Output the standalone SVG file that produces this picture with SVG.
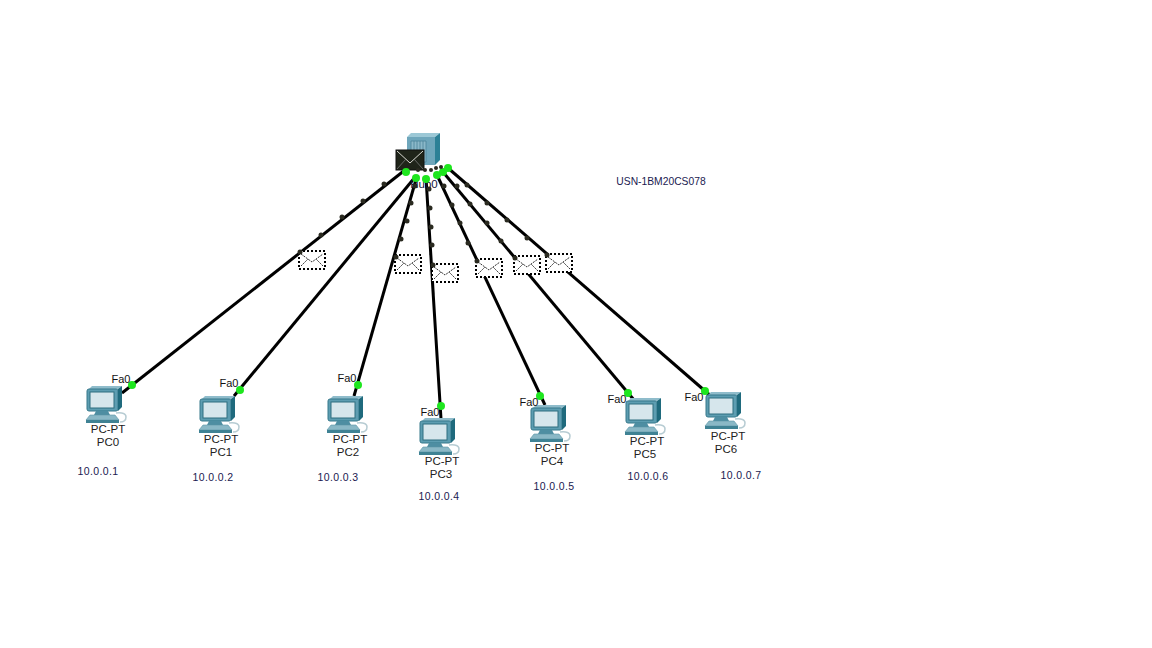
<svg xmlns="http://www.w3.org/2000/svg" xmlns:xlink="http://www.w3.org/1999/xlink" width="1152" height="648" viewBox="0 0 1152 648">
<style>
text{font-family:"Liberation Sans",Arial,sans-serif;font-size:11.5px;fill:#222;text-anchor:middle}
.ip{fill:#1a1a50;font-size:10.5px;letter-spacing:.4px}
.usn{fill:#1a1a50;font-size:10.3px}
.l{fill:#111;font-size:11px}
.w{stroke:#000;stroke-width:3;fill:none}
.g{fill:#1ee61e}
.d{fill:#2a2a20}
.env{fill:#fff;stroke:#000;stroke-width:2;stroke-dasharray:2 2}
.fold{fill:none;stroke:#333;stroke-width:1;stroke-dasharray:2 1}
</style>
<defs>
<g id="pc">
<path d="M-14,-25 L-11,-28 H19 L15,-25 Z" fill="#8fbccb"/>
<rect x="-16" y="-25" width="31" height="22" rx="2" fill="#5d9db1" stroke="#37788b" stroke-width="1"/>
<path d="M15,-25 L19,-28 V-7 L15,-3 Z" fill="#1f6a7d"/>
<rect x="-13" y="-22" width="24" height="16" fill="#d6e6ec" stroke="#2f6f80" stroke-width="1"/>
<path d="M-7,-3 H5 L7,1 H-9 Z" fill="#4e8ea2"/>
<path d="M-13,1 H12 L16,6 H-17 Z" fill="#8ab8c6" stroke="#5a95a6" stroke-width=".6"/>
<path d="M-17,6 H16 V9 H-17 Z" fill="#3f8294"/>
<path d="M13,-1 Q23,-2 23,3 Q23,8 17,8" fill="none" stroke="#b7ccd3" stroke-width="1.5"/>
</g>
<g id="mail">
<rect class="env" x="1" y="1" width="26" height="18"/>
<path class="fold" d="M3,4 L14,12 L25,4 M3,16 L10,9 M25,16 L18,9"/>
</g>
</defs>
<g id="connectors">
<path class="w" d="M122,393 L405,170"/>
<path class="w" d="M234,396 L416,176"/>
<path class="w" d="M354,396 L417,176"/>
<path class="w" d="M441,419 L426,178"/>
<path class="w" d="M545,405 L437,175"/>
<path class="w" d="M634,400 L443,172"/>
<path class="w" d="M712,397 L448,168"/>
</g>
<g id="hub0">
<path d="M407,137 L411,133 H440 L435,137 Z" fill="#9cc8d6"/>
<rect x="407" y="137" width="28" height="28" fill="#6ea6bb"/>
<path d="M435,137 L440,133 V160 L435,165 Z" fill="#2c8096"/>
<path d="M411,141 H426 V162 H411 Z M414,141 V162 M417,141 V162 M420,141 V162 M423,141 V162" fill="#8bb8c9" stroke="#4a8399" stroke-width=".8"/>
<text x="424" y="188" style="fill:#14143a">Hub0</text>
</g>
<g id="packets">
<g id="hub-envelope"><rect x="396" y="150" width="28" height="20" fill="#1f2419" stroke="#111"/><path d="M397,151 L410,163 L423,151" fill="none" stroke="#d8d8d0" stroke-width="1"/><path d="M397,169 L406,159 M423,169 L414,159" stroke="#777" stroke-width=".8"/></g>
<use xlink:href="#mail" href="#mail" x="298" y="250"/>
<use xlink:href="#mail" href="#mail" x="394" y="254"/>
<use xlink:href="#mail" href="#mail" x="431" y="263"/>
<use xlink:href="#mail" href="#mail" x="475" y="258"/>
<use xlink:href="#mail" href="#mail" x="513" y="255"/>
<use xlink:href="#mail" href="#mail" x="545" y="253"/>
</g>
<g id="link-lights">
<circle class="g" cx="132" cy="385" r="4"/><circle class="g" cx="240" cy="390" r="4"/><circle class="g" cx="358" cy="385" r="4"/><circle class="g" cx="441" cy="406" r="4"/><circle class="g" cx="540" cy="396" r="4"/><circle class="g" cx="628" cy="393" r="4"/><circle class="g" cx="705" cy="391" r="4"/>
<circle class="g" cx="406" cy="172" r="4"/><circle class="g" cx="416" cy="178" r="4"/><circle class="g" cx="426" cy="179" r="4"/><circle class="g" cx="437" cy="175" r="4"/><circle class="g" cx="443" cy="172" r="4"/><circle class="g" cx="448" cy="168" r="4"/>
</g>
<g id="flow-dots" class="d">
<circle cx="300" cy="252" r="2.5"/><circle cx="321" cy="235" r="2.5"/><circle cx="342" cy="217" r="2.5"/><circle cx="363" cy="201" r="2.5"/><circle cx="384" cy="184" r="2.5"/>
<circle cx="396" cy="257" r="2.5"/><circle cx="401" cy="239" r="2.5"/><circle cx="407" cy="221" r="2.5"/><circle cx="411" cy="203" r="2.5"/><circle cx="415" cy="186" r="2.5"/>
<circle cx="433" cy="265" r="2.5"/><circle cx="432" cy="245" r="2.5"/><circle cx="431" cy="227" r="2.5"/><circle cx="430" cy="208" r="2.5"/><circle cx="429" cy="189" r="2.5"/>
<circle cx="477" cy="261" r="2.5"/><circle cx="468" cy="243" r="2.5"/><circle cx="460" cy="223" r="2.5"/><circle cx="452" cy="205" r="2.5"/><circle cx="444" cy="186" r="2.5"/>
<circle cx="515" cy="258" r="2.5"/><circle cx="501" cy="241" r="2.5"/><circle cx="487" cy="223" r="2.5"/><circle cx="470" cy="204" r="2.5"/><circle cx="457" cy="186" r="2.5"/>
<circle cx="547" cy="255" r="2.5"/><circle cx="527" cy="238" r="2.5"/><circle cx="507" cy="220" r="2.5"/><circle cx="487" cy="203" r="2.5"/><circle cx="467" cy="185" r="2.5"/>
<circle cx="418" cy="170" r="2"/><circle cx="425" cy="170" r="2"/><circle cx="431" cy="170" r="2"/><circle cx="436" cy="168" r="2"/><circle cx="441" cy="167" r="2"/>
</g>
<g id="pc0"><use xlink:href="#pc" href="#pc" x="103" y="414"/><text class="l" x="121" y="383">Fa0</text><text x="108" y="433">PC-PT</text><text x="108" y="446">PC0</text><text class="ip" x="98" y="475">10.0.0.1</text></g>
<g id="pc1"><use xlink:href="#pc" href="#pc" x="216" y="424"/><text class="l" x="229" y="387">Fa0</text><text x="221" y="443">PC-PT</text><text x="221" y="456">PC1</text><text class="ip" x="213" y="481">10.0.0.2</text></g>
<g id="pc2"><use xlink:href="#pc" href="#pc" x="344" y="424"/><text class="l" x="347" y="382">Fa0</text><text x="350" y="443">PC-PT</text><text x="348" y="456">PC2</text><text class="ip" x="338" y="481">10.0.0.3</text></g>
<g id="pc3"><use xlink:href="#pc" href="#pc" x="436" y="446"/><text class="l" x="430" y="416">Fa0</text><text x="442" y="465">PC-PT</text><text x="441" y="478">PC3</text><text class="ip" x="439" y="500">10.0.0.4</text></g>
<g id="pc4"><use xlink:href="#pc" href="#pc" x="547" y="433"/><text class="l" x="529" y="406">Fa0</text><text x="552" y="452">PC-PT</text><text x="552" y="465">PC4</text><text class="ip" x="554" y="490">10.0.0.5</text></g>
<g id="pc5"><use xlink:href="#pc" href="#pc" x="642" y="426"/><text class="l" x="617" y="403">Fa0</text><text x="647" y="445">PC-PT</text><text x="645" y="458">PC5</text><text class="ip" x="648" y="480">10.0.0.6</text></g>
<g id="pc6"><use xlink:href="#pc" href="#pc" x="722" y="420"/><text class="l" x="694" y="401">Fa0</text><text x="728" y="440">PC-PT</text><text x="726" y="453">PC6</text><text class="ip" x="741" y="479">10.0.0.7</text></g>
<text id="usn" class="usn" x="661" y="185">USN-1BM20CS078</text>
</svg>
